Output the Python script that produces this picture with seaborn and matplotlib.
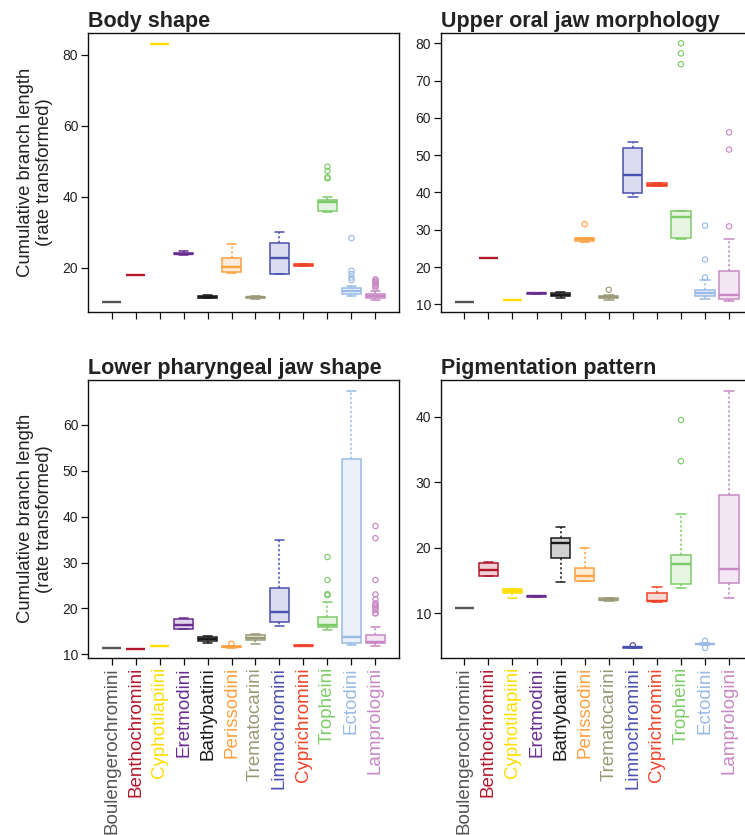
import matplotlib
matplotlib.use("Agg")
import matplotlib.pyplot as plt
import seaborn as sns
from matplotlib.colors import to_rgb

# ---------------- data ----------------
tribes = ["Boulengerochromini", "Benthochromini", "Cyphotilapiini", "Eretmodini",
          "Bathybatini", "Perissodini", "Trematocarini", "Limnochromini",
          "Cyprichromini", "Tropheini", "Ectodini", "Lamprologini"]
tribe_colors = ["#555555", "#B2182B", "#FFDD00", "#6A2C91", "#1A1A1A", "#FFA040",
                "#9A9A78", "#4A50B0", "#F0442A", "#7CCB68", "#99BBE5", "#C987C6"]

panel_titles = ["Body shape", "Upper oral jaw morphology",
                "Lower pharyngeal jaw shape", "Pigmentation pattern"]

# five-number summaries (lower whisker, Q1, median, Q3, upper whisker)
body_stats = [(10.5, 10.5, 10.5, 10.5, 10.5), (18.0, 18.0, 18.0, 18.0, 18.0),
              (83.0, 83.0, 83.0, 83.0, 83.0), (23.7, 23.9, 24.0, 24.3, 24.7),
              (11.5, 11.6, 11.8, 12.0, 12.3), (18.7, 18.9, 20.2, 22.7, 26.7),
              (11.3, 11.5, 11.7, 11.9, 12.1), (18.3, 18.4, 22.9, 26.9, 30.0),
              (20.5, 20.7, 20.8, 21.1, 21.2), (35.7, 35.9, 38.7, 39.1, 40.0),
              (12.2, 12.7, 13.5, 14.3, 15.0), (11.0, 11.5, 12.0, 12.6, 13.6)]
body_fliers = [[], [], [], [], [], [], [], [], [],
               [45.2, 45.5, 47.3, 48.5],
               [16.6, 17.3, 18.3, 19.2, 28.4],
               [14.4, 14.9, 15.3, 15.7, 16.1, 16.5, 16.8]]

oral_stats = [(10.6, 10.6, 10.6, 10.6, 10.6), (22.3, 22.3, 22.3, 22.3, 22.3),
              (11.1, 11.1, 11.1, 11.1, 11.1), (12.8, 12.85, 12.9, 13.0, 13.05),
              (11.8, 12.1, 12.5, 12.9, 13.3), (26.6, 27.0, 27.5, 27.9, 27.9),
              (11.1, 11.7, 12.0, 12.3, 12.5), (38.8, 39.9, 44.8, 52.0, 53.4),
              (41.6, 41.8, 42.1, 42.5, 42.6), (27.5, 27.8, 33.3, 34.9, 35.1),
              (11.3, 12.1, 12.9, 13.9, 16.5), (10.9, 11.5, 12.5, 18.9, 27.4)]
oral_fliers = [[], [], [], [], [], [31.5], [13.9], [], [],
               [74.4, 77.3, 80.0],
               [17.2, 22.0, 31.1],
               [30.9, 51.5, 56.1]]

pharyngeal_stats = [(11.3, 11.3, 11.3, 11.3, 11.3), (11.15, 11.15, 11.15, 11.15, 11.15),
                    (11.7, 11.7, 11.7, 11.7, 11.7), (15.5, 15.5, 16.3, 17.6, 18.0),
                    (12.4, 12.8, 13.3, 13.7, 14.0), (11.4, 11.5, 11.6, 11.8, 11.9),
                    (12.2, 13.2, 13.6, 14.1, 14.5), (16.1, 17.1, 19.2, 24.4, 34.9),
                    (11.7, 11.8, 11.9, 12.0, 12.1), (15.3, 15.9, 16.4, 18.2, 21.4),
                    (12.0, 12.5, 13.8, 52.6, 67.5), (11.8, 12.4, 12.6, 14.1, 16.0)]
pharyngeal_fliers = [[], [], [], [], [], [12.3], [], [], [],
                     [22.9, 23.1, 26.2, 31.2],
                     [],
                     [18.9, 19.0, 19.6, 20.0, 20.4, 20.7, 21.1, 22.0, 23.05,
                      26.2, 35.3, 37.96]]

pigment_stats = [(10.76, 10.76, 10.76, 10.76, 10.76), (15.7, 15.7, 16.6, 17.6, 17.8),
                 (12.4, 13.05, 13.45, 13.7, 13.7), (12.5, 12.5, 12.6, 12.7, 12.7),
                 (14.7, 18.5, 20.8, 21.5, 23.1), (14.9, 14.9, 15.7, 16.95, 19.9),
                 (11.9, 12.0, 12.1, 12.3, 12.3), (4.76, 4.76, 4.8, 4.85, 4.9),
                 (11.7, 11.8, 11.9, 13.05, 14.0), (13.8, 14.5, 17.5, 18.9, 25.2),
                 (5.2, 5.25, 5.3, 5.35, 5.4), (12.3, 14.6, 16.7, 28.1, 43.9)]
pigment_fliers = [[], [], [], [], [], [], [], [5.1], [],
                  [33.2, 39.5],
                  [4.7, 5.8],
                  []]

y_limits = [(7.62, 86.1), (7.93, 82.77), (9.3, 69.8), (3.25, 45.6)]
y_ticks = [[20, 40, 60, 80], list(range(10, 81, 10)),
           list(range(10, 61, 10)), [10, 20, 30, 40]]
y_label = "Cumulative branch length\n(rate transformed)"

# ---------------- style ----------------
sns.set_theme(style="ticks")
plt.rcParams["font.family"] = ["Liberation Sans", "DejaVu Sans"]

W, H = 745, 835
fig = plt.figure(figsize=(W / 100, H / 100), dpi=100)


def rect(l, r, t, b):
    return [l / W, 1 - b / H, (r - l) / W, (b - t) / H]


rects = [rect(88, 399, 33, 312), rect(440.7, 752.7, 33, 312),
         rect(88, 399, 380, 657.5), rect(440.7, 752.7, 380, 657.5)]
all_stats = [body_stats, oral_stats, pharyngeal_stats, pigment_stats]
all_fliers = [body_fliers, oral_fliers, pharyngeal_fliers, pigment_fliers]

for p in range(4):
    ax = fig.add_axes(rects[p])
    for i, (t, col) in enumerate(zip(tribes, tribe_colors)):
        light = tuple(0.8 + 0.2 * c for c in to_rgb(col))
        vals = list(all_stats[p][i])
        sns.boxplot(x=[t] * len(vals), y=vals, order=tribes, ax=ax,
                    color=light, linecolor=col, saturation=1, width=0.8,
                    whis=(0, 100), showfliers=False, linewidth=1.1,
                    capwidths=0.4,
                    whiskerprops=dict(linestyle=(0, (1.5, 1.5))),
                    medianprops=dict(linewidth=1.7))
        fl = all_fliers[p][i]
        if fl:
            sns.stripplot(x=[t] * len(fl), y=fl, order=tribes, ax=ax,
                          jitter=False, color=col, facecolors="none",
                          edgecolor=col, linewidth=0.85, size=3.8, marker="o")
    ax.set_xlim(-0.98, 11.98)
    ax.set_ylim(*y_limits[p])
    ax.set_yticks(y_ticks[p])
    ax.set_xticks(range(len(tribes)))
    ax.set_xlabel("")
    ax.set_ylabel("")
    for s in ax.spines.values():
        s.set_color("#111111")
        s.set_linewidth(1.0)
    ax.tick_params(axis="both", direction="out", length=5, width=0.9,
                   color="#111111", labelsize=10, labelcolor="#222222", pad=2)
    if p >= 2:
        ax.set_xticklabels(tribes, rotation=90, fontsize=13.5, va="top", ha="center")
        for lab, col in zip(ax.get_xticklabels(), tribe_colors):
            lab.set_color(col)
    else:
        ax.set_xticklabels([])
    ax.set_title(panel_titles[p], loc="left", fontsize=15.5, fontweight="bold",
                 color="#222222", pad=4)
    if p % 2 == 0:
        cy = rects[p][1] + rects[p][3] / 2
        fig.text(35 / W, cy, y_label, rotation=90, ha="center", va="center",
                 multialignment="center", fontsize=13.3, color="#222222")

fig.savefig("out.png", dpi=100)
